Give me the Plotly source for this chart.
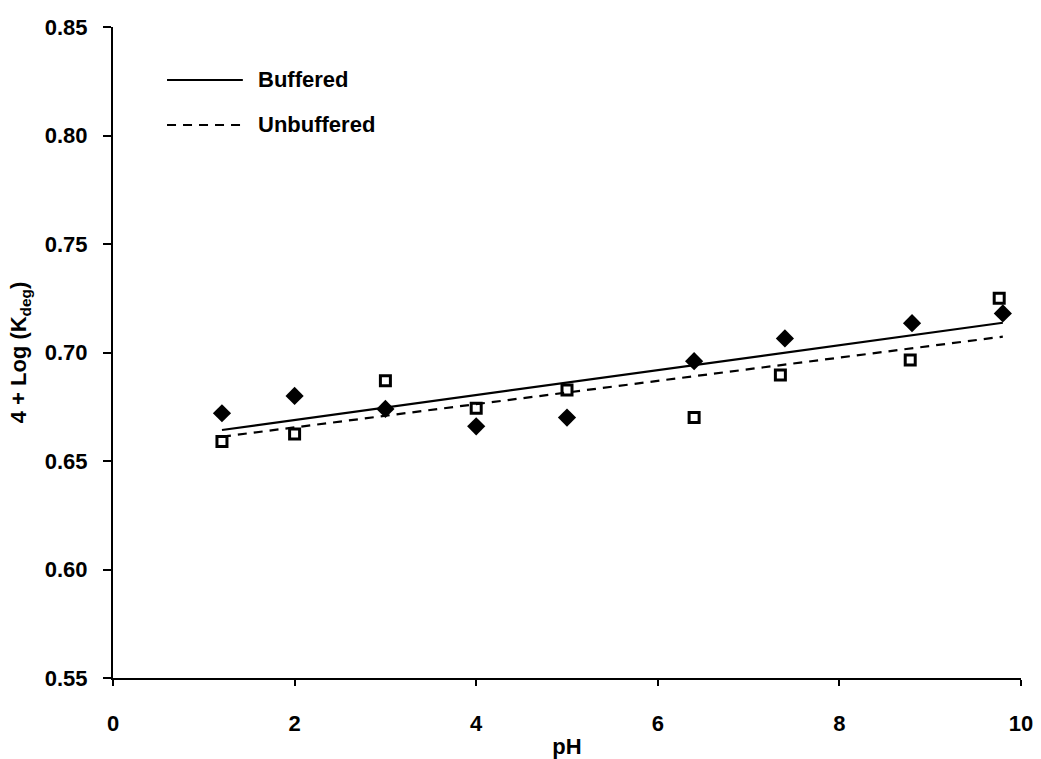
import plotly.graph_objects as go

# Data
ph_buffered = [1.2, 2.0, 3.0, 4.0, 5.0, 6.4, 7.4, 8.8, 9.8]
k_buffered = [0.672, 0.680, 0.674, 0.666, 0.670, 0.696, 0.7065, 0.7135, 0.718]

ph_unbuffered = [1.2, 2.0, 3.0, 4.0, 5.0, 6.4, 7.35, 8.78, 9.76]
k_unbuffered = [0.659, 0.6625, 0.687, 0.6743, 0.6827, 0.670, 0.6896, 0.6966, 0.725]

# Trend lines (end points)
fit_buffered_x = [1.2, 9.8]
fit_buffered_y = [0.6643, 0.7137]
fit_unbuffered_x = [1.2, 9.8]
fit_unbuffered_y = [0.6612, 0.7073]

legend_names = ["Buffered", "Unbuffered"]
x_ticks = [0, 2, 4, 6, 8, 10]
y_ticks = [0.55, 0.60, 0.65, 0.70, 0.75, 0.80, 0.85]

FONT = "Liberation Sans, Arial, sans-serif"
FS = 22

fig = go.Figure()

fig.add_trace(go.Scatter(x=fit_buffered_x, y=fit_buffered_y, mode="lines",
                         line=dict(color="black", width=2.2), showlegend=False,
                         name=legend_names[0]))
fig.add_trace(go.Scatter(x=fit_unbuffered_x, y=fit_unbuffered_y, mode="lines",
                         line=dict(color="black", width=2.2, dash="9px,7px"),
                         showlegend=False, name=legend_names[1]))
fig.add_trace(go.Scatter(x=ph_buffered, y=k_buffered, mode="markers",
                         marker=dict(symbol="diamond", size=14, color="black",
                                     line=dict(width=0)),
                         showlegend=False))
fig.add_trace(go.Scatter(x=ph_unbuffered, y=k_unbuffered, mode="markers",
                         marker=dict(symbol="square-open", size=10, color="black",
                                     line=dict(width=3, color="black")),
                         showlegend=False))

# Legend drawn as shapes + text (paper coordinates)
leg_x0, leg_x1, leg_tx = 0.0595, 0.143, 0.157
leg_y = [0.9186, 0.8495]
fig.add_shape(type="line", xref="paper", yref="paper", x0=leg_x0, x1=leg_x1,
              y0=leg_y[0], y1=leg_y[0], line=dict(color="black", width=2.2))
fig.add_shape(type="line", xref="paper", yref="paper", x0=leg_x0, x1=leg_x1,
              y0=leg_y[1], y1=leg_y[1], line=dict(color="black", width=2.2, dash="9px,7px"))
for name, yy in zip(legend_names, leg_y):
    fig.add_annotation(xref="paper", yref="paper", x=leg_tx, y=yy, text=name,
                       showarrow=False, xanchor="left", yanchor="middle",
                       font=dict(family=FONT, size=FS, color="black", weight="bold"))

fig.update_layout(
    width=1041, height=759,
    margin=dict(l=113, r=20, t=27, b=81, autoexpand=False),
    paper_bgcolor="white", plot_bgcolor="white",
    font=dict(family=FONT, size=FS, color="black", weight="bold"),
    showlegend=False,
)
fig.update_xaxes(
    range=[0, 10], tickvals=x_ticks, ticktext=[str(v) for v in x_ticks],
    tickfont=dict(family=FONT, size=FS, weight="bold"), automargin=False,
    showline=True, linecolor="black", linewidth=2, showgrid=False, zeroline=False,
    ticks="outside", ticklen=6, tickwidth=1.5, tickcolor="black",
    ticklabelstandoff=19,
    title=dict(text="pH", font=dict(family=FONT, size=FS, weight="bold"), standoff=4),
)
fig.update_yaxes(
    range=[0.55, 0.85], tickvals=y_ticks, tickformat=".2f",
    tickfont=dict(family=FONT, size=FS, weight="bold"), automargin=False,
    showline=True, linecolor="black", linewidth=2, showgrid=False, zeroline=False,
    ticks="outside", ticklen=8, tickwidth=1.5, tickcolor="black",
    ticklabelstandoff=11,
    title=dict(text="4 + Log (K<sub>deg</sub>)", font=dict(family=FONT, size=FS, weight="bold"), standoff=12),
)

fig.write_html("out.html")
